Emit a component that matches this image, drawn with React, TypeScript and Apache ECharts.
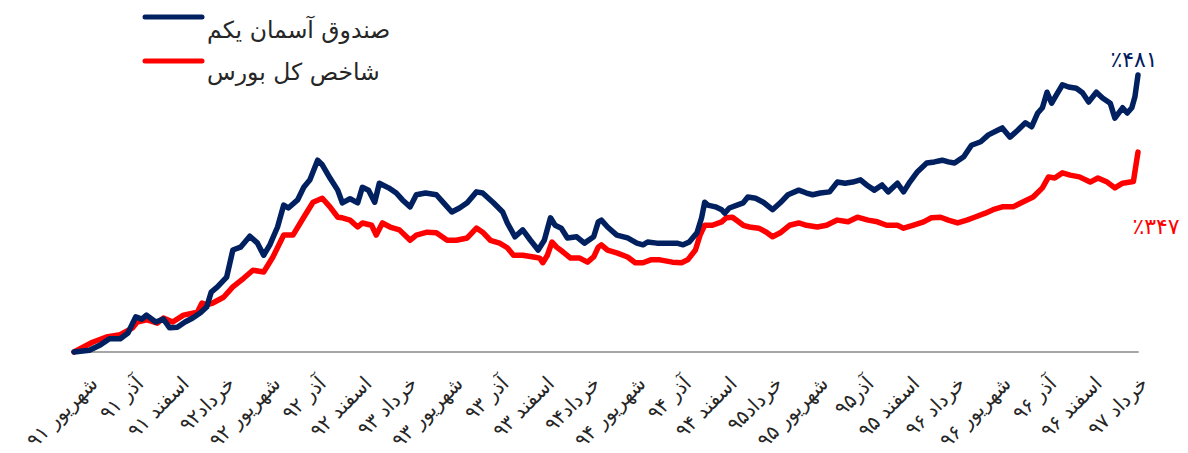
import React, { useEffect, useRef } from 'react';
import * as echarts from 'echarts';

// Category (tick) labels along the x axis, one every three months
const monthLabels: string[] = [
  'شهریور ۹۱', 'آذر ۹۱', 'اسفند ۹۱', 'خرداد۹۲', 'شهریور ۹۲', 'آذر ۹۲',
  'اسفند ۹۲', 'خرداد ۹۳', 'شهریور ۹۳', 'آذر ۹۳', 'اسفند ۹۳', 'خرداد۹۴',
  'شهریور ۹۴', 'آذر ۹۴', 'اسفند ۹۴', 'خرداد۹۵', 'شهریور ۹۵', 'آذر۹۵',
  'اسفند ۹۵', 'خرداد ۹۶', 'شهریور ۹۶', 'آذر ۹۶', 'اسفند ۹۶', 'خرداد ۹۷',
];

const fundName = 'صندوق آسمان یکم';
const indexName = 'شاخص کل بورس';
const endLabels: string[] = ['٪۴۸۱', '٪۳۴۷'];

// [months since start, cumulative return %]
const fundReturn: [number, number][] = [
  [0, 0], [1.0, 3], [1.7, 12], [2.3, 23], [3.0, 23], [3.5, 33], [4.0, 61], [4.4, 57],
  [4.7, 64], [5.3, 52], [5.8, 57], [6.2, 42], [6.7, 43], [7.2, 52], [7.7, 59], [8.2, 68],
  [8.6, 78], [8.9, 104], [9.3, 113], [9.9, 130], [10.3, 177], [10.8, 182], [11.4, 201],
  [11.9, 189], [12.3, 168], [12.7, 186], [13.2, 217], [13.6, 255], [13.9, 250], [14.5, 264],
  [14.9, 286], [15.3, 299], [15.8, 333], [16.1, 325], [16.6, 302], [17.1, 281], [17.4, 259],
  [17.9, 266], [18.4, 259], [18.7, 286], [19.1, 281], [19.5, 260], [19.8, 293], [20.4, 285],
  [20.9, 276], [21.3, 264], [21.8, 252], [22.2, 273], [22.8, 276], [23.5, 273], [24.1, 255],
  [24.5, 243], [25.0, 250], [25.5, 259], [26.1, 278], [26.5, 276], [27.2, 259], [27.8, 243],
  [28.1, 224], [28.6, 200], [29.1, 212], [29.6, 194], [30.1, 177], [30.5, 194], [30.9, 233],
  [31.2, 220], [31.6, 215], [32.0, 198], [32.6, 200], [33.1, 189], [33.7, 200], [34.0, 226],
  [34.2, 229], [34.6, 217], [35.2, 203], [35.9, 198], [36.5, 189], [36.9, 186], [37.2, 191],
  [37.8, 189], [38.5, 189], [39.1, 189], [39.5, 186], [39.9, 191], [40.4, 207], [40.7, 233],
  [40.9, 260], [41.1, 255], [41.6, 252], [42.0, 247], [42.2, 241], [42.5, 250], [43.0, 255],
  [43.4, 259], [43.7, 269], [44.2, 267], [44.7, 260], [45.3, 247], [45.8, 259], [46.3, 273],
  [47.0, 281], [47.5, 276], [47.9, 273], [48.4, 276], [49.0, 278], [49.5, 295], [50.0, 293],
  [50.5, 295], [51.0, 299], [51.4, 290], [51.9, 281], [52.4, 290], [52.8, 278], [53.4, 293],
  [53.8, 278], [54.2, 295], [54.7, 313], [55.3, 328], [55.8, 330], [56.3, 333], [56.7, 330],
  [57.1, 328], [57.7, 339], [58.2, 359], [58.8, 365], [59.3, 377], [59.9, 385], [60.2, 389],
  [60.7, 373], [61.2, 385], [61.7, 398], [62.1, 391], [62.5, 415], [62.8, 424], [63.1, 451],
  [63.4, 432], [63.7, 446], [64.1, 464], [64.5, 460], [65.0, 458], [65.4, 450], [65.8, 434],
  [66.3, 451], [66.7, 441], [67.2, 432], [67.5, 406], [68.0, 424], [68.3, 415], [68.6, 424],
  [68.8, 443], [69.0, 481],
];

const indexReturn: [number, number][] = [
  [0, 0], [1.2, 17], [2.1, 26], [3.0, 30], [3.8, 42], [4.1, 52], [4.7, 56], [5.4, 50],
  [5.8, 59], [6.4, 52], [7.1, 64], [8.0, 69], [8.3, 85], [8.6, 82], [9.0, 85], [9.7, 95],
  [10.3, 113], [11.0, 128], [11.6, 142], [12.3, 139], [12.9, 165], [13.6, 203], [14.2, 203],
  [14.9, 234], [15.5, 260], [16.1, 267], [16.6, 252], [17.1, 234], [17.4, 233], [17.9, 229],
  [18.4, 217], [18.7, 224], [19.3, 220], [19.6, 203], [20.0, 224], [20.5, 217], [21.1, 212],
  [21.8, 194], [22.2, 203], [22.9, 208], [23.5, 207], [24.2, 194], [24.8, 194], [25.5, 198],
  [26.1, 215], [26.5, 208], [27.0, 194], [27.6, 189], [28.1, 181], [28.5, 168], [29.1, 168],
  [29.8, 165], [30.2, 163], [30.4, 155], [30.7, 168], [31.0, 191], [31.3, 182], [31.7, 174],
  [32.2, 163], [32.8, 163], [33.3, 156], [33.7, 165], [34.0, 182], [34.2, 186], [34.6, 177],
  [35.2, 172], [35.9, 165], [36.4, 155], [36.9, 155], [37.4, 160], [38.0, 160], [38.8, 156],
  [39.4, 155], [39.8, 160], [40.3, 177], [40.6, 203], [40.9, 220], [41.4, 220], [42.0, 226],
  [42.3, 233], [42.7, 234], [43.1, 226], [43.4, 220], [43.8, 217], [44.4, 215], [44.9, 208],
  [45.3, 200], [45.8, 207], [46.4, 220], [47.0, 224], [47.5, 220], [48.2, 217], [48.8, 220],
  [49.5, 229], [50.2, 226], [50.8, 234], [51.5, 229], [52.1, 226], [52.7, 220], [53.4, 220],
  [53.8, 215], [54.4, 220], [55.1, 226], [55.6, 233], [56.2, 234], [56.7, 229], [57.3, 224],
  [57.9, 229], [58.4, 234], [59.1, 241], [59.6, 247], [60.2, 252], [60.9, 252], [61.5, 260],
  [62.2, 269], [62.8, 285], [63.2, 304], [63.6, 302], [64.1, 311], [64.6, 307], [65.2, 304],
  [65.9, 295], [66.4, 302], [67.0, 295], [67.5, 285], [68.0, 293], [68.7, 296], [69.0, 347],
];

const FUND_COLOR = '#002060';
const INDEX_COLOR = '#FF0000';
const FONT = '"DejaVu Sans", sans-serif';

export default function App() {
  const ref = useRef<HTMLDivElement>(null);

  useEffect(() => {
    if (!ref.current) return;
    const chart = echarts.init(ref.current, undefined, { renderer: 'svg' });
    const lastFund = fundReturn[fundReturn.length - 1];
    const lastIndex = indexReturn[indexReturn.length - 1];
    chart.setOption({
      animation: false,
      backgroundColor: '#ffffff',
      grid: [
        { left: 74, right: 50, top: 64, bottom: 101 },
        { left: 94, right: 44, top: 64, bottom: 101 },
      ],
      xAxis: [
        {
          type: 'value', gridIndex: 0, min: 0, max: 69,
          axisLine: { show: true, lineStyle: { color: '#A6A6A6', width: 2 } },
          axisTick: { show: false }, axisLabel: { show: false }, splitLine: { show: false },
        },
        {
          type: 'category', gridIndex: 1, boundaryGap: false, data: monthLabels,
          axisLine: { show: false }, axisTick: { show: false }, splitLine: { show: false },
          axisLabel: {
            interval: 0, rotate: 45, margin: 31, fontSize: 20, color: '#262626',
            fontFamily: FONT,
          },
        },
      ],
      yAxis: [
        { type: 'value', gridIndex: 0, min: 0, max: 500, show: false, splitLine: { show: false } },
        { type: 'value', gridIndex: 1, min: 0, max: 500, show: false, splitLine: { show: false } },
      ],
      series: [
        {
          name: indexName, type: 'line', xAxisIndex: 0, yAxisIndex: 0, data: indexReturn,
          showSymbol: false, clip: false, lineStyle: { color: INDEX_COLOR, width: 5.5, cap: 'round', join: 'round' },
          itemStyle: { color: INDEX_COLOR },
        },
        {
          name: fundName, type: 'line', xAxisIndex: 0, yAxisIndex: 0, data: fundReturn,
          showSymbol: false, clip: false, lineStyle: { color: FUND_COLOR, width: 5.5, cap: 'round', join: 'round' },
          itemStyle: { color: FUND_COLOR },
        },
      ],
    });
    const pf = chart.convertToPixel({ gridIndex: 0 }, lastFund) as number[];
    const pi = chart.convertToPixel({ gridIndex: 0 }, lastIndex) as number[];
    chart.setOption({
      graphic: [
        { type: 'line', shape: { x1: 145, y1: 17, x2: 202, y2: 17 }, style: { stroke: FUND_COLOR, lineWidth: 5, lineCap: 'round' } },
        { type: 'text', x: 207, y: 30, style: { text: fundName, fontSize: 23.5, fontFamily: FONT, fill: '#262626', textAlign: 'left', textVerticalAlign: 'middle' } },
        { type: 'line', shape: { x1: 145, y1: 61, x2: 202, y2: 61 }, style: { stroke: INDEX_COLOR, lineWidth: 5, lineCap: 'round' } },
        { type: 'text', x: 207, y: 72, style: { text: indexName, fontSize: 23.5, fontFamily: FONT, fill: '#262626', textAlign: 'left', textVerticalAlign: 'middle' } },
        { type: 'text', x: pf[0] - 4, y: pf[1] - 15, style: { text: endLabels[0], fontSize: 22, fontFamily: FONT, fill: FUND_COLOR, textAlign: 'center', textVerticalAlign: 'middle' } },
        { type: 'text', x: pi[0] + 18, y: pi[1] + 74, style: { text: endLabels[1], fontSize: 22, fontFamily: FONT, fill: INDEX_COLOR, textAlign: 'center', textVerticalAlign: 'middle' } },
      ],
    });
    return () => chart.dispose();
  }, []);

  return (
    <div
      ref={ref}
      style={{ position: 'fixed', left: 0, top: 0, width: 1188, height: 453, background: '#fff' }}
    />
  );
}
